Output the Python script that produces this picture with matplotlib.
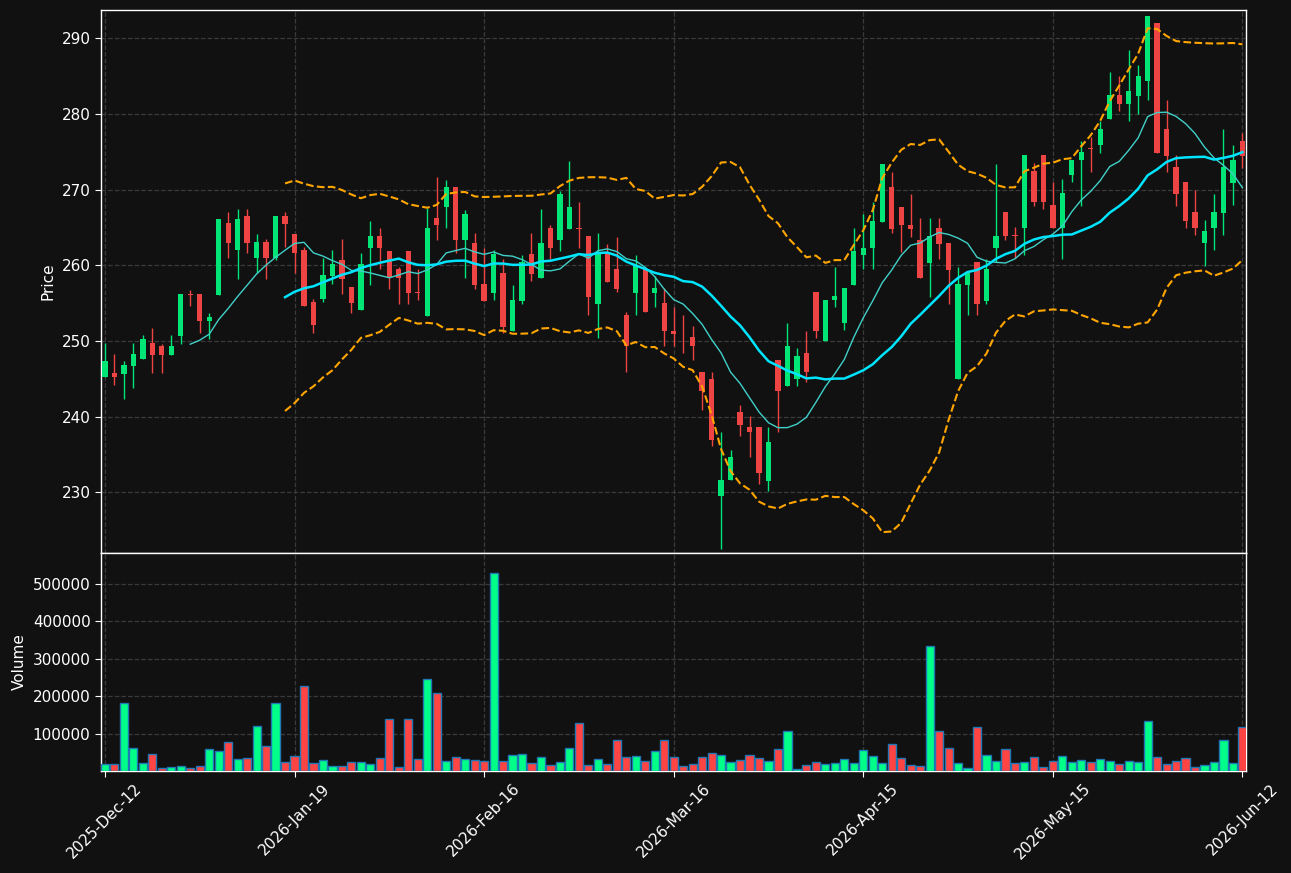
import numpy as np
import pandas as pd
import matplotlib
matplotlib.use("Agg")
import matplotlib.pyplot as plt
from matplotlib.ticker import MultipleLocator, FixedLocator

# ---------------- data ----------------
tick_labels = ["2025-Dec-12", "2026-Jan-19", "2026-Feb-16", "2026-Mar-16",
               "2026-Apr-15", "2026-May-15", "2026-Jun-12"]
tick_index = [0, 20, 40, 60, 80, 100, 120]

opens = [245.28, 245.79, 245.69, 246.75, 247.67, 249.73, 249.32, 248.17, 250.70, 256.21,
         256.21, 252.63, 256.12, 265.57, 262.08, 266.49, 260.98, 263.10, 260.98, 266.49,
         264.10, 262.08, 255.15, 255.61, 258.60, 260.71, 257.13, 254.14, 262.27, 263.88,
         261.90, 259.51, 261.90, 256.48, 253.32, 266.31, 267.69, 270.30, 263.32, 262.96,
         257.54, 256.39, 258.96, 251.34, 255.29, 261.49, 258.37, 264.93, 263.37, 264.79,
         264.93, 263.88, 254.92, 261.72, 259.51, 253.41, 256.39, 259.51, 256.39, 255.01,
         251.39, 250.05, 250.56, 245.97, 245.05, 229.58, 231.60, 240.60, 238.62, 238.62,
         231.51, 247.48, 244.00, 245.05, 248.49, 256.44, 250.01, 255.38, 252.40, 257.45,
         261.35, 262.27, 265.76, 270.30, 267.78, 265.39, 263.42, 260.34, 264.93, 262.96,
         245.05, 257.45, 260.43, 255.29, 262.27, 267.00, 264.01, 264.93, 272.46, 274.57,
         267.96, 264.93, 271.91, 273.89, 275.49, 275.95, 279.35, 282.47, 281.32, 282.38,
         284.40, 292.02, 278.02, 272.97, 270.99, 267.09, 262.96, 264.93, 266.95, 270.90,
         276.50]
highs = [249.73, 248.26, 247.35, 249.73, 250.79, 251.71, 249.64, 250.79, 256.21, 256.76,
         256.21, 253.68, 266.12, 267.00, 267.50, 267.50, 264.10, 263.55, 266.49, 267.00,
         264.10, 262.50, 255.61, 261.03, 262.08, 263.55, 257.13, 261.58, 265.85, 264.93,
         261.90, 259.83, 261.90, 259.51, 267.55, 271.68, 271.31, 270.30, 267.32, 264.33,
         262.36, 262.04, 260.89, 257.45, 261.44, 264.33, 267.41, 265.39, 269.84, 273.84,
         268.33, 263.88, 264.33, 262.87, 263.78, 253.91, 261.35, 259.51, 258.60, 256.99,
         254.46, 253.41, 251.94, 245.97, 245.97, 238.03, 235.64, 241.61, 240.09, 238.62,
         238.62, 247.48, 252.40, 249.09, 251.39, 256.44, 255.38, 259.83, 256.99, 264.93,
         266.86, 268.33, 273.38, 272.28, 267.78, 269.38, 266.31, 266.31, 266.31, 262.96,
         259.83, 258.96, 260.43, 260.89, 273.38, 267.00, 265.02, 274.57, 273.52, 274.57,
         270.99, 271.45, 273.98, 276.50, 276.96, 279.03, 285.55, 285.00, 288.44, 286.46,
         292.94, 292.02, 281.92, 274.53, 270.99, 270.00, 266.03, 269.48, 278.02, 275.95,
         277.51]
lows = [245.28, 244.22, 242.30, 243.76, 247.67, 245.74, 245.74, 248.17, 249.64, 254.69,
        251.11, 250.24, 256.12, 261.03, 258.14, 261.58, 259.05, 258.14, 260.66, 262.50,
        259.05, 254.65, 251.11, 255.15, 257.58, 256.16, 253.68, 254.14, 257.45, 259.51,
        256.90, 254.92, 254.92, 255.38, 253.32, 263.42, 264.89, 261.58, 258.37, 256.90,
        255.29, 255.38, 251.11, 251.34, 254.92, 257.91, 258.37, 260.89, 261.90, 264.79,
        262.36, 253.41, 250.47, 257.81, 256.44, 245.97, 253.41, 253.87, 254.46, 249.41,
        249.41, 248.49, 247.48, 240.92, 236.10, 222.55, 231.60, 237.48, 234.63, 231.05,
        230.13, 238.03, 244.00, 244.00, 244.59, 250.47, 250.01, 254.46, 251.48, 257.45,
        259.51, 259.51, 265.76, 264.33, 261.81, 263.78, 258.37, 255.84, 260.89, 254.92,
        245.05, 253.41, 253.41, 254.92, 260.43, 263.42, 261.03, 261.35, 267.87, 267.46,
        264.93, 260.89, 270.99, 267.87, 272.37, 274.90, 279.35, 280.40, 279.03, 280.00,
        281.92, 274.89, 272.37, 267.87, 264.93, 264.01, 259.97, 262.04, 264.01, 267.92,
        272.92]
closes = [247.35, 245.28, 246.84, 248.26, 250.24, 248.17, 248.17, 249.32, 256.21, 256.07,
          252.63, 253.18, 266.12, 263.00, 266.12, 263.00, 263.10, 260.98, 266.49, 265.48,
          261.58, 254.65, 252.17, 258.73, 260.16, 258.14, 255.06, 260.16, 263.88, 262.27,
          258.46, 258.37, 256.39, 256.39, 264.93, 265.34, 270.30, 263.32, 266.86, 257.45,
          255.29, 261.49, 251.85, 255.38, 260.43, 258.82, 262.96, 262.27, 269.38, 267.78,
          264.84, 255.84, 261.72, 257.81, 256.90, 249.41, 259.97, 253.87, 256.99, 251.34,
          250.93, 249.95, 249.32, 243.44, 236.92, 231.64, 234.63, 238.94, 238.03, 232.56,
          236.65, 243.44, 249.41, 248.03, 245.97, 251.39, 255.38, 255.93, 256.99, 261.90,
          262.36, 265.85, 273.38, 264.79, 265.30, 264.79, 258.37, 263.88, 262.87, 259.38,
          257.54, 258.96, 254.92, 259.51, 263.88, 263.88, 263.92, 274.57, 268.42, 268.42,
          264.93, 269.52, 273.98, 274.99, 275.40, 278.02, 282.47, 281.32, 283.02, 285.00,
          292.94, 274.89, 274.44, 269.48, 265.85, 264.93, 264.56, 267.09, 272.97, 273.98,
          274.44]
volumes = [19500, 19500, 180500, 62400, 22000, 46000, 7800, 10500, 14000, 7800,
           14000, 59700, 54400, 78500, 32900, 35600, 121500, 67800, 183000, 24800,
           40900, 226000, 22000, 30200, 13200, 13200, 24800, 24800, 19500, 35600,
           140000, 10500, 140000, 32900, 245000, 207500, 27500, 38300, 32900, 30200,
           25700, 529500, 25700, 43600, 46300, 22000, 38300, 16800, 24800, 62400,
           129500, 16800, 32900, 19500, 83900, 38300, 40900, 27500, 54400, 83900,
           38300, 14000, 19500, 38300, 49000, 43600, 24800, 30200, 43600, 35600,
           27500, 59700, 108000, 5100, 16800, 24800, 19500, 22000, 32900, 22000,
           57000, 40900, 22000, 73200, 35600, 16800, 14000, 333600, 108000, 62400,
           22000, 8700, 118800, 43600, 27500, 59700, 22000, 24800, 38300, 10500,
           27500, 40900, 24800, 30200, 24800, 32900, 27500, 19500, 27500, 24800,
           134900, 38300, 19500, 27500, 35600, 10500, 16800, 24800, 83900, 22000,
           118800]

# ---------------- style ----------------
BG = "#111111"
UP_C, DN_C = "#00e676", "#ef4444"
VUP_C, VDN_C = "#00ff88", "#ff4444"
TXT = "#ffffff"
GRID = "#3a3a3a"

df = pd.DataFrame({"Open": opens, "High": highs, "Low": lows,
                   "Close": closes, "Volume": volumes})
x = np.arange(len(df))
up = df["Close"] >= df["Open"]

ma10 = df["Close"].rolling(10).mean()
ma20 = df["Close"].rolling(20).mean()
sd20 = df["Close"].rolling(20).std(ddof=0)
bb_up = ma20 + 2 * sd20
bb_lo = ma20 - 2 * sd20

fig = plt.figure(figsize=(12.91, 8.73), dpi=100, facecolor=BG)
axp = fig.add_axes([0.0782, 0.3666, 0.8869, 0.6219], facecolor=BG)
axv = fig.add_axes([0.0782, 0.1174, 0.8869, 0.2492], facecolor=BG, sharex=axp)

# candles
cw = 0.56
for i in range(len(df)):
    c = UP_C if up[i] else DN_C
    axp.vlines(x[i], df["Low"][i], df["High"][i], color=c, linewidth=1.0, zorder=2)
    lo = min(df["Open"][i], df["Close"][i])
    h = abs(df["Close"][i] - df["Open"][i])
    if h < 0.08:
        h = 0.08
    axp.bar(x[i], h, bottom=lo, width=cw, color=c, linewidth=0, zorder=3)

axp.plot(x, ma10, color="#40d0c8", linewidth=1.0, zorder=4)
axp.plot(x, ma20, color="#00e5ff", linewidth=1.8, zorder=4)
axp.plot(x, bb_up, color="#ffa500", linewidth=1.5, linestyle="--", zorder=4)
axp.plot(x, bb_lo, color="#ffa500", linewidth=1.5, linestyle="--", zorder=4)

# volume
vcols = [VUP_C if u else VDN_C for u in up]
axv.bar(x, df["Volume"], width=0.86, color=vcols, edgecolor="#1f77b4",
        linewidth=1.0, zorder=3)

axp.set_xlim(-0.42, 120.37)
axp.set_ylim(222.0, 293.75)
axv.set_ylim(0.3 * min(volumes), 1.1 * max(volumes))

axp.yaxis.set_major_locator(MultipleLocator(10))
axv.yaxis.set_major_locator(MultipleLocator(100000))
axv.ticklabel_format(style="plain", axis="y")
axv.xaxis.set_major_locator(FixedLocator(tick_index))
axv.set_xticklabels(tick_labels, rotation=45, ha="center")
plt.setp(axp.get_xticklabels(), visible=False)

for ax in (axp, axv):
    ax.grid(True, color=GRID, linestyle="--", linewidth=0.9)
    ax.set_axisbelow(True)
    for s in ax.spines.values():
        s.set_color(TXT)
        s.set_linewidth(1.0)
    ax.tick_params(colors=TXT, labelcolor=TXT, labelsize=11, length=4)

axp.set_ylabel("Price", color=TXT, fontsize=11)
axv.set_ylabel("Volume", color=TXT, fontsize=11)

fig.savefig("out.png", dpi=100, facecolor=BG)
